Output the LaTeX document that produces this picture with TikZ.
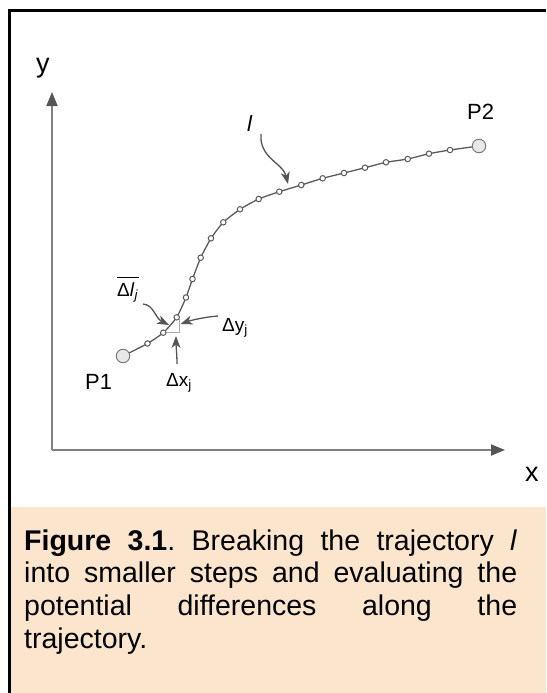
\documentclass[tikz,border=0pt]{standalone}
\usepackage{fontspec}
\setmainfont{Liberation Sans}
\usetikzlibrary{arrows.meta}
\frenchspacing
\definecolor{peach}{HTML}{FCE5CD}
\definecolor{axisgray}{HTML}{808080}
\definecolor{tipgray}{HTML}{555555}
\definecolor{curvegray}{HTML}{5A5A5A}
\definecolor{lightfill}{HTML}{E8E8E8}
\definecolor{trigray}{HTML}{AAAAAA}
\tikzset{
  axisline/.style={draw=axisgray,line width=1.8pt,-{Triangle[length=14pt,width=11pt,color=tipgray]}},
  curveline/.style={draw=curvegray,line width=1.3pt},
  smalldot/.style={circle,draw=curvegray,fill=white,line width=1pt,minimum size=5.5pt,inner sep=0pt},
  bigdot/.style={circle,draw=curvegray!80,fill=lightfill,line width=1pt,minimum size=13.5pt,inner sep=0pt},
  pointer/.style={draw=tipgray,line width=1.3pt,-{Stealth[length=12pt,width=9pt,inset=3.5pt]}},
  lbl/.style={inner sep=0pt,font=\fontsize{22}{22}\selectfont},
  axlbl/.style={inner sep=0pt,font=\fontsize{27}{27}\selectfont},
  dlbl/.style={inner sep=0pt,font=\fontsize{19}{19}\selectfont},
}
\begin{document}
\begin{tikzpicture}[x=1pt,y=-1pt]
\useasboundingbox (0,0) rectangle (546,693);
% caption background
\fill[peach] (10,507) rectangle (546,693);
% frame
\draw[black,line width=2.3pt] (9.5,693) -- (9.5,10.5) -- (546,10.5);
% axes
\coordinate (org) at (52,450);
\coordinate (ytip) at (52,92);
\coordinate (xtip) at (505,450);
\draw[axisline] (org) -- (ytip);
\draw[axisline] (org) -- (xtip);
\node[axlbl,anchor=base west] (ylab) at (36,73) {y};
\node[axlbl,anchor=base west] (xlab) at (525,481) {x};
% trajectory
\draw[curveline] plot[smooth,tension=0.35] coordinates {
 (123,356) (147.5,343.5) (163.3,332.7) (176.7,317.3) (186,297.5) (192.5,279)
 (200.7,257.7) (211,238.3) (223.3,222.3) (240,209.3) (258.7,199) (279.3,191.7)
 (301.3,185) (322.7,178.3) (344,173) (365,167.7) (386,162.3) (407.7,159)
 (429,153.7) (450,150) (479,146)};
% small triangle
\draw[trigray,line width=1.4pt] (165,332.7) -- (179.3,332.7) -- (179.3,318.5);
\foreach \n/\p in {1/{147.5,343.5},2/{163.3,332.7},3/{176.7,317.3},4/{186,297.5},5/{192.5,279},
 6/{200.7,257.7},7/{211,238.3},8/{223.3,222.3},9/{240,209.3},10/{258.7,199},11/{279.3,191.7},
 12/{301.3,185},13/{322.7,178.3},14/{344,173},15/{365,167.7},16/{386,162.3},17/{407.7,159},
 18/{429,153.7},19/{450,150}}
  \node[smalldot] (d\n) at (\p) {};
\node[bigdot] (p1) at (123,356) {};
\node[bigdot] (p2) at (479,146) {};
\node[lbl,anchor=base west] (p1lab) at (85,389) {P1};
\node[lbl,anchor=base west] (p2lab) at (467,119) {P2};
% labels
\node[lbl,anchor=base west] (llab) at (247,131) {\textit{l}};
\node[dlbl,anchor=base west] (dl) at (117,296) {Δ\textit{l}\textsubscript{\textit{j}}};
\draw[black,line width=0.9pt] ([yshift=5pt]dl.north west) -- ([yshift=5pt]dl.north east);
\node[dlbl,anchor=base west] (dy) at (222,331) {Δy\textsubscript{j}};
\node[dlbl,anchor=base west] (dx) at (166,386) {Δx\textsubscript{j}};
% pointers
\coordinate (lstart) at (261,134);
\coordinate (ltip) at (288,184);
\draw[pointer] (lstart) .. controls (259,158) and (283,163) .. (ltip);
\coordinate (dlstart) at (143,304);
\coordinate (dltip) at (169,325);
\draw[pointer] (dlstart) .. controls (154,305) and (155,318) .. (dltip);
\coordinate (dystart) at (218,316);
\coordinate (dytip) at (180.5,324);
\draw[pointer] (dystart) .. controls (205,317) and (192,320) .. (dytip);
\coordinate (dxstart) at (177,364);
\coordinate (dxtip) at (176,336);
\draw[pointer] (dxstart) .. controls (177,355) and (176,345) .. (dxtip);
% caption
\node[inner sep=0pt,anchor=base west,text width=493pt,align=justify,font=\fontsize{28.5}{32.7}\selectfont] (cap) at (24,550)
 {\textbf{Figure 3.1}. Breaking the trajectory \textit{l}\linebreak
  into smaller steps and evaluating the\linebreak
  potential differences along the\linebreak
  trajectory.};
\end{tikzpicture}
\end{document}
